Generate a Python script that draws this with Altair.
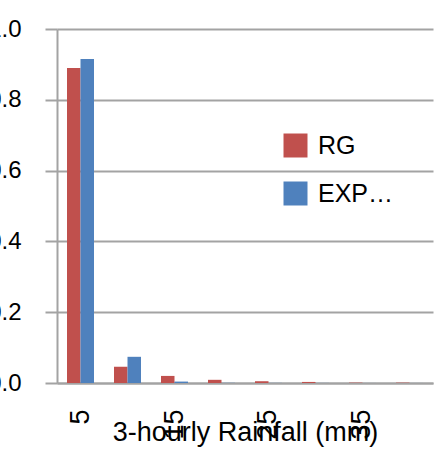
import altair as alt
import pandas as pd

# 3-hourly rainfall bins (mm) and relative frequency for each source
rain_bins = [5, 10, 15, 20, 25, 30, 35, 40]
rg_freq = [0.89, 0.046, 0.020, 0.009, 0.005, 0.003, 0.001, 0.001]
exp_freq = [0.915, 0.074, 0.004, 0.0005, 0.0003, 0.0002, 0.0001, 0.0001]
series_names = ["RG", "EXP…"]
series_colors = ["#C0504D", "#4F81BD"]
label_bins = [5, 15, 25, 35]
y_ticks = [0.0, 0.2, 0.4, 0.6, 0.8, 1.0]

rows = []
for b, r, e in zip(rain_bins, rg_freq, exp_freq):
    rows.append({"bin": b, "series": series_names[0], "freq": r})
    rows.append({"bin": b, "series": series_names[1], "freq": e})
df = pd.DataFrame(rows)

grey = "#a3a3a3"
font = "Liberation Sans"

chart = (
    alt.Chart(df)
    .mark_bar()
    .encode(
        x=alt.X(
            "bin:O",
            scale=alt.Scale(paddingInner=0.4255, paddingOuter=0.2128),
            axis=alt.Axis(
                title="3-hourly Rainfall (mm)",
                values=label_bins,
                labelAngle=270,
                labelFontSize=27,
                labelPadding=26,
                labelColor="black",
                ticks=False,
                domainColor=grey,
                domainWidth=2,
                titleFontSize=27,
                titleFontWeight="normal",
                titleColor="black",
                titleBaseline="alphabetic",
                titleY=57,
                titleX=188,
                titleAlign="center",
            ),
        ),
        xOffset=alt.XOffset("series:N", sort=series_names, scale=alt.Scale(domain=series_names)),
        y=alt.Y(
            "freq:Q",
            scale=alt.Scale(domain=[0, 1], nice=False),
            axis=alt.Axis(
                title=None,
                values=y_ticks,
                format=".1f",
                labelFontSize=24,
                labelPadding=24,
                labelColor="black",
                tickSize=12,
                tickColor=grey,
                tickWidth=2,
                domainColor=grey,
                domainWidth=2,
                grid=True,
                gridColor=grey,
                gridWidth=2,
            ),
        ),
        color=alt.Color(
            "series:N",
            sort=series_names,
            scale=alt.Scale(domain=series_names, range=series_colors),
            legend=alt.Legend(
                title=None,
                orient="none",
                legendX=226,
                legendY=104,
                symbolType="square",
                symbolSize=576,
                symbolStrokeWidth=0,
                labelFontSize=25,
                labelColor="black",
                labelOffset=10,
                rowPadding=22,
                padding=0,
            ),
        ),
    )
    .properties(
        width=376,
        height=354,
        autosize=alt.AutoSizeParams(type="none"),
        padding={"left": 57, "top": 29, "right": 11, "bottom": 71},
    )
    .configure(font=font)
    .configure_view(strokeWidth=0)
)

chart.save("out.html", embed_options={"renderer": "svg", "actions": False})
